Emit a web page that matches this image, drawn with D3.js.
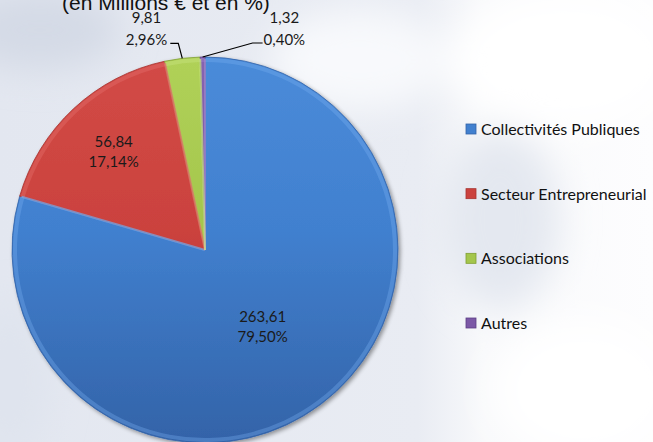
<!DOCTYPE html>
<head>
<meta charset="utf-8">
<style>
body, html {
  margin: 0;
  padding: 0;
  overflow: hidden;
}
svg {
  display: block;
}
.lbl {
  font-family: Lato, "Open Sans", sans-serif;
  font-size: 15px;
  fill: #1a1a1a;
}
.legend text {
  font-family: Lato, "Open Sans", sans-serif;
  font-size: 16px;
  fill: #111;
}
.title {
  font-family: "Liberation Sans", Arial, sans-serif;
  font-size: 21px;
  fill: #111;
}
.leader {
  fill: none;
  stroke: #000;
  stroke-width: 1.2;
}
</style>
<script src="https://d3js.org/d3.v7.min.js"></script>
</head>
<body>
<script>

// data
var categories = ["Collectivités Publiques", "Secteur Entrepreneurial", "Associations", "Autres"];
var values = [263.61, 56.84, 9.81, 1.32];
var valueLabels = ["263,61", "56,84", "9,81", "1,32"];
var percentLabels = ["79,50%", "17,14%", "2,96%", "0,40%"];
var colors = ["#4180cf", "#cb423e", "#a4c64c", "#7b58a6"];
var topColors = ["#4a8bd9", "#d24a46", "#b0d158", "#8663b2"];
var darkColors = ["#3363a8", "#a73431", "#7f9f32", "#5c3f85"];
var lightColors = ["#78aef0", "#e87673", "#cfe98a", "#a68ad0"];

var width = 653,
    height = 442,
    cx = 205,
    cy = 250,
    radius = 193;

var svg = d3.select("body").append("svg")
    .attr("width", width)
    .attr("height", height);

var defs = svg.append("defs");

// background: faded picture look
var bg = defs.append("linearGradient").attr("id", "bg")
    .attr("x1", 0).attr("x2", 1).attr("y1", 0).attr("y2", 0);
bg.append("stop").attr("offset", "0%").attr("stop-color", "#e3e7f0");
bg.append("stop").attr("offset", "64%").attr("stop-color", "#e9ecf3");
bg.append("stop").attr("offset", "74%").attr("stop-color", "#f8f9fb");
bg.append("stop").attr("offset", "100%").attr("stop-color", "#fdfdfe");

var blur = defs.append("filter").attr("id", "blur")
    .attr("x", "-50%").attr("y", "-50%").attr("width", "200%").attr("height", "200%");
blur.append("feGaussianBlur").attr("stdDeviation", 18);

var shadow = defs.append("filter").attr("id", "shadow")
    .attr("x", "-20%").attr("y", "-20%").attr("width", "140%").attr("height", "140%");
shadow.append("feGaussianBlur").attr("in", "SourceAlpha").attr("stdDeviation", 2);
shadow.append("feOffset").attr("dx", 1.5).attr("dy", 1.5).attr("result", "b");
shadow.append("feComponentTransfer").append("feFuncA").attr("type", "linear").attr("slope", 0.4);
var merge = shadow.append("feMerge");
merge.append("feMergeNode");
merge.append("feMergeNode").attr("in", "SourceGraphic");

svg.append("rect")
    .attr("width", width)
    .attr("height", height)
    .attr("fill", "url(#bg)");

var blobs = svg.append("g").attr("filter", "url(#blur)");
blobs.append("ellipse").attr("cx", 40).attr("cy", 30).attr("rx", 80).attr("ry", 40).attr("fill", "#d4dae6");
blobs.append("ellipse").attr("cx", 360).attr("cy", 60).attr("rx", 90).attr("ry", 50).attr("fill", "#f8f9fc");
blobs.append("ellipse").attr("cx", 560).attr("cy", 60).attr("rx", 110).attr("ry", 70).attr("fill", "#ffffff");
blobs.append("ellipse").attr("cx", 580).attr("cy", 390).attr("rx", 90).attr("ry", 70).attr("fill", "#ffffff");
blobs.append("ellipse").attr("cx", 500).attr("cy", 220).attr("rx", 60).attr("ry", 90).attr("fill", "#e4e8f0");
blobs.append("ellipse").attr("cx", 10).attr("cy", 380).attr("rx", 40).attr("ry", 80).attr("fill", "#dfe4ee");

// gradients for slices (in the chart group's coordinates)
colors.forEach(function(c, i) {
  var g = defs.append("linearGradient").attr("id", "grad" + i)
      .attr("gradientUnits", "userSpaceOnUse")
      .attr("x1", 0).attr("y1", -radius).attr("x2", 0).attr("y2", radius);
  g.append("stop").attr("offset", "0%").attr("stop-color", topColors[i]);
  g.append("stop").attr("offset", "45%").attr("stop-color", c);
  g.append("stop").attr("offset", "100%").attr("stop-color", darkColors[i]);
});

var pie = d3.pie().sort(null).value(function(d) { return d; });
var arcs = pie(values);

var arc = d3.arc().innerRadius(0).outerRadius(radius);
var rimArc = d3.arc().innerRadius(radius - 5).outerRadius(radius - 1);

var chart = svg.append("g").attr("transform", "translate(" + cx + "," + cy + ")");

var slices = chart.append("g").attr("filter", "url(#shadow)");
slices.selectAll("path.slice")
    .data(arcs)
  .enter().append("path")
    .attr("class", "slice")
    .attr("d", arc)
    .attr("fill", function(d, i) { return "url(#grad" + i + ")"; })
    .attr("stroke", function(d, i) { return darkColors[i]; })
    .attr("stroke-width", 0.8)
    .attr("stroke-linejoin", "round");

// light inner rim for bevel look
chart.selectAll("path.rim")
    .data(arcs)
  .enter().append("path")
    .attr("class", "rim")
    .attr("d", rimArc)
    .attr("fill", function(d, i) { return lightColors[i]; })
    .attr("opacity", 0.35);

// light edge along the start of each slice
chart.selectAll("line.edge")
    .data(arcs)
  .enter().append("line")
    .attr("class", "edge")
    .attr("x1", 0).attr("y1", 0)
    .attr("x2", function(d) { return Math.sin(d.startAngle) * (radius - 2); })
    .attr("y2", function(d) { return -Math.cos(d.startAngle) * (radius - 2); })
    .attr("stroke", function(d, i) { return lightColors[(i + arcs.length - 1) % arcs.length]; })
    .attr("stroke-width", 2)
    .attr("opacity", 0.7);

// inside labels
var inside = [
  {i: 0, r: 96},
  {i: 1, r: 134}
];
inside.forEach(function(o) {
  var a = arcs[o.i];
  var mid = (a.startAngle + a.endAngle) / 2;
  var x = Math.sin(mid) * o.r,
      y = -Math.cos(mid) * o.r;
  chart.append("text").attr("class", "lbl")
      .attr("text-anchor", "middle")
      .attr("x", x).attr("y", y - 5)
      .text(valueLabels[o.i]);
  chart.append("text").attr("class", "lbl")
      .attr("text-anchor", "middle")
      .attr("x", x).attr("y", y + 15)
      .text(percentLabels[o.i]);
});

// outside labels with leader lines
var outside = [
  {i: 2, dx: -4, dy: -15, hl: 8},
  {i: 3, dx: 50, dy: -14, hl: -10}
];
outside.forEach(function(o) {
  var a = arcs[o.i];
  var mid = (a.startAngle + a.endAngle) / 2;
  var px = Math.sin(mid) * radius,
      py = -Math.cos(mid) * radius;
  var ex = px + o.dx,
      ey = py + o.dy;
  var left = o.hl > 0;
  var hx = left ? ex - o.hl : ex - o.hl;
  chart.append("path").attr("class", "leader")
      .attr("d", "M" + px + "," + py + "L" + ex + "," + ey + "L" + hx + "," + ey);
  var pct = chart.append("text").attr("class", "lbl")
      .attr("text-anchor", left ? "end" : "start")
      .attr("x", left ? hx - 3 : hx + 1).attr("y", ey + 2)
      .text(percentLabels[o.i]);
  var bb = pct.node().getBBox();
  chart.append("text").attr("class", "lbl")
      .attr("text-anchor", "middle")
      .attr("x", bb.x + bb.width / 2).attr("y", ey - 20)
      .text(valueLabels[o.i]);
});

// title (cut off at the top)
svg.append("text").attr("class", "title")
    .attr("x", 166).attr("y", 10)
    .attr("text-anchor", "middle")
    .text("(en Millions € et en %)");

// legend
var legendY = d3.scalePoint().domain(categories).range([129, 323]);
var legend = svg.append("g").attr("class", "legend");
var items = legend.selectAll("g")
    .data(categories)
  .enter().append("g")
    .attr("transform", function(d) { return "translate(466," + legendY(d) + ")"; });
items.append("rect")
    .attr("x", 0).attr("y", -5)
    .attr("width", 10).attr("height", 10)
    .attr("fill", function(d, i) { return colors[i]; })
    .attr("stroke", function(d, i) { return darkColors[i]; })
    .attr("stroke-width", 0.8);
items.append("text")
    .attr("x", 15).attr("y", 6)
    .text(function(d) { return d; });

</script>
</body>
